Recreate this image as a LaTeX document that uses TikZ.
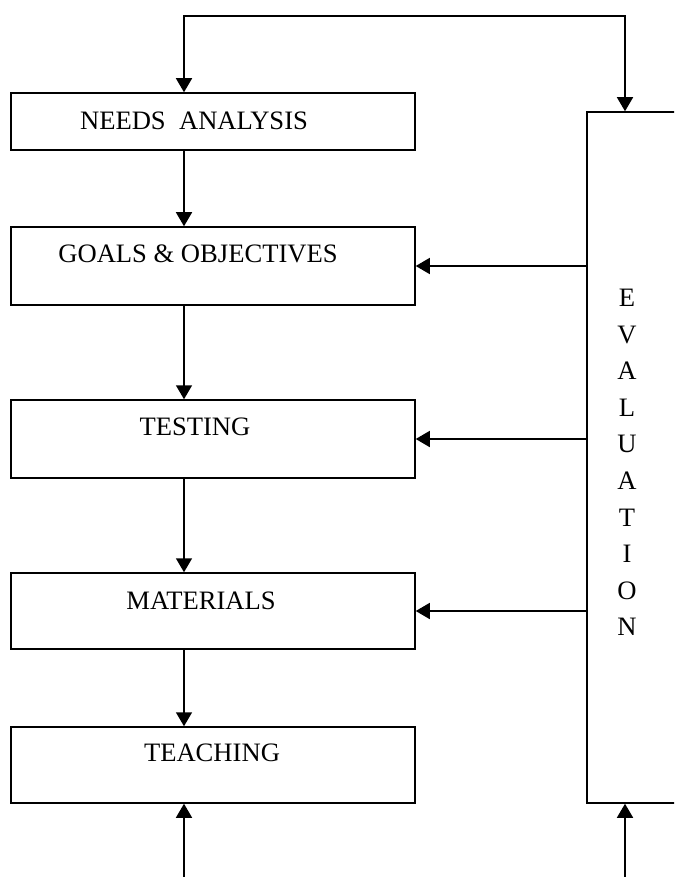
\documentclass[tikz,border=0pt]{standalone}
\usepackage{fontspec}
\setmainfont{Liberation Serif}
\usepackage{tikz}
\usetikzlibrary{positioning,arrows.meta}

\begin{document}
\begin{tikzpicture}[x=0.5pt, y=-0.5pt, line width=0.75pt,
    every node/.style={font=\fontsize{13.3}{18.3}\selectfont},
    stagebox/.style={draw, minimum width=202pt, inner sep=0pt},
    arr/.style={-{Triangle[width=8pt,length=7pt]}}]
  \useasboundingbox (0,0) rectangle (674,877);
  \clip (0,0) rectangle (674,877);
  % stages of the cycle
  \foreach \n/\y/\h in {needs/121.5/28.5, goals/266/39, testing/439/39,
    materials/611/38, teaching/765/38}{
    \node[stagebox, minimum height=\h pt] (\n) at (213,\y) {};}
  \foreach \n/\x/\y/\l in {needs/194/121/{NEEDS\ \ ANALYSIS},
    goals/198/254/{GOALS \& OBJECTIVES}, testing/195/427/TESTING,
    materials/201/601/MATERIALS, teaching/212/753/TEACHING}{
    \node (\n-txt) at (\x,\y) {\l};}
  % evaluation column
  \node[draw, minimum width=56.5pt, minimum height=345.5pt, inner sep=0pt]
    (eval) at (643.5,457.5) {};
  \node[align=center, inner sep=0pt] (eval-txt) at (627,462.5)
    {E\\V\\A\\L\\U\\A\\T\\I\\O\\N};
  % loop over the top and open ends below
  \coordinate (loopL) at (184,16);
  \coordinate (loopR) at (625,16);
  \coordinate (inL) at (184,890);
  \coordinate (inR) at (625,890);
  \draw[{Triangle[width=8pt,length=7pt]}-{Triangle[width=8pt,length=7pt]}]
    (needs.north -| loopL) -- (loopL) -- (loopR) -- (eval.north -| loopR);
  \foreach \a/\b in {needs/goals, goals/testing, testing/materials,
    materials/teaching}{
    \draw[arr] (\a.south -| loopL) -- (\b.north -| loopL);}
  \foreach \b in {goals, testing, materials}{
    \draw[arr] (eval.west |- \b.east) -- (\b.east);}
  \draw[arr] (inL) -- (teaching.south -| inL);
  \draw[arr] (inR) -- (eval.south -| inR);
\end{tikzpicture}
\end{document}
